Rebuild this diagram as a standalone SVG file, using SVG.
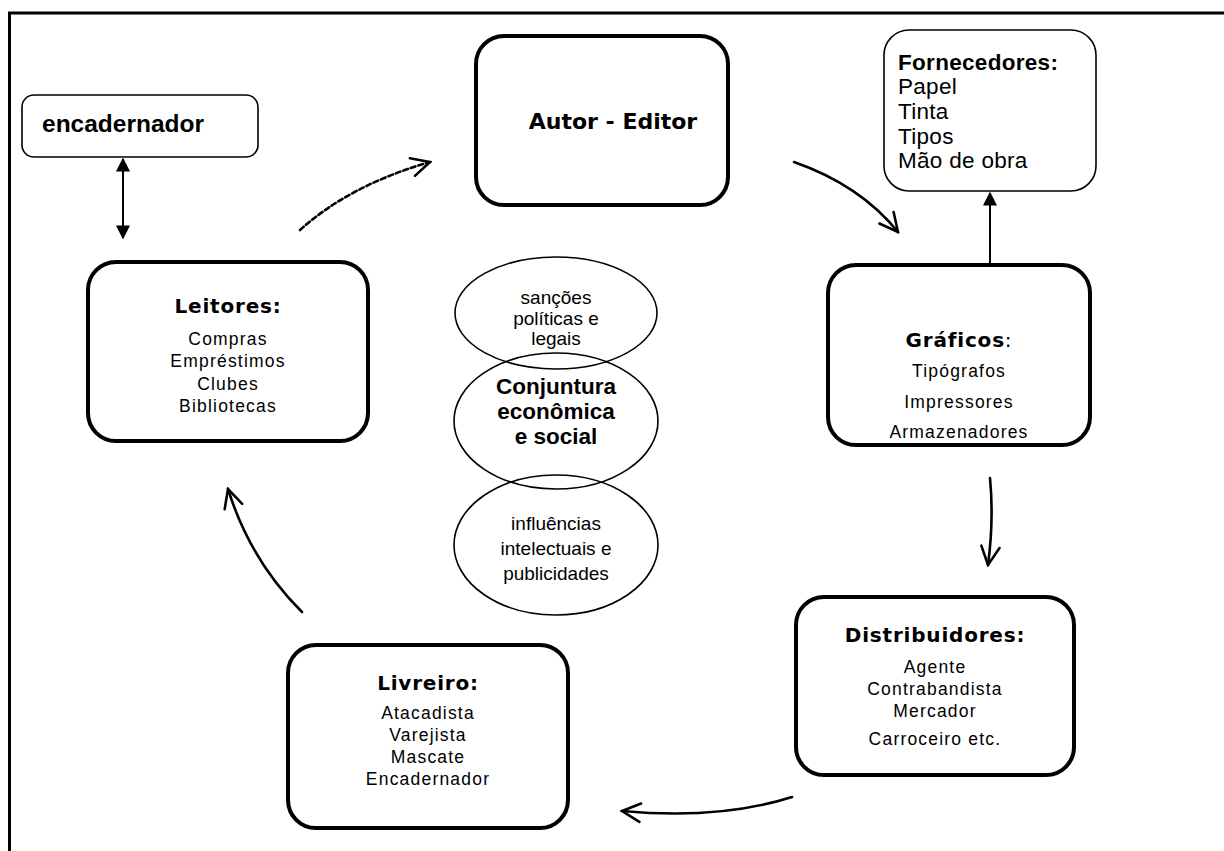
<svg xmlns="http://www.w3.org/2000/svg" width="1224" height="851" viewBox="0 0 1224 851">
  <style>
    .thick { fill: #fff; stroke: #000; stroke-width: 4; }
    .thin { fill: #fff; stroke: #000; stroke-width: 1.6; }
    .ell { fill: none; stroke: #000; stroke-width: 1.6; }
    .head { font-family: "DejaVu Sans", Verdana, sans-serif; font-weight: bold; font-size: 20px; letter-spacing: 0.8px; text-anchor: middle; fill: #000; }
    .item { font-family: "Liberation Sans", Arial, sans-serif; font-size: 17.5px; letter-spacing: 1.2px; text-anchor: middle; fill: #000; }
    .sup { font-family: "Liberation Sans", Arial, sans-serif; font-size: 22.5px; letter-spacing: 0.3px; fill: #000; }
    .oval { font-family: "Liberation Sans", Arial, sans-serif; font-size: 19px; text-anchor: middle; fill: #000; }
    .ovalb { font-family: "Liberation Sans", Arial, sans-serif; font-size: 22.5px; font-weight: bold; text-anchor: middle; fill: #000; }
    .conn { fill: none; stroke: #000; stroke-width: 2.6; stroke-linecap: round; }
    .straight { fill: none; stroke: #000; stroke-width: 2; }
  </style>
  <defs>
    <marker id="tri" viewBox="0 0 10 10" refX="9" refY="5" markerWidth="14" markerHeight="14" markerUnits="userSpaceOnUse" orient="auto-start-reverse">
      <path d="M0,0 L10,5 L0,10 Z" fill="#000"/>
    </marker>
    <marker id="open" viewBox="0 0 12 12" refX="11" refY="6" markerWidth="22" markerHeight="22" markerUnits="userSpaceOnUse" orient="auto">
      <path d="M1,1 L11,6 L1,11" fill="none" stroke="#000" stroke-width="1.4" stroke-linecap="round"/>
    </marker>
  </defs>

  <!-- page frame: top and left edges -->
  <path d="M9.5,851 L9.5,13 L1224,13" fill="none" stroke="#000" stroke-width="3"/>

  <!-- connectors -->
  <g id="connectors">
    <line class="straight" x1="123" y1="159" x2="123" y2="238" marker-start="url(#tri)" marker-end="url(#tri)"/>
    <line class="straight" x1="990" y1="265" x2="990" y2="193" marker-end="url(#tri)"/>
    <path class="conn" d="M300,230 Q350,185 430,162" stroke-dasharray="5,3" marker-end="url(#open)"/>
    <path class="conn" d="M794,162 Q860,185 898,232" marker-end="url(#open)"/>
    <path class="conn" d="M990,478 Q994,520 988,565" marker-end="url(#open)"/>
    <path class="conn" d="M792,797 Q720,820 622,811" marker-end="url(#open)"/>
    <path class="conn" d="M302,612 Q250,560 228,489" marker-end="url(#open)"/>
  </g>

  <g id="encadernador">
    <rect class="thin" x="22" y="95" width="236" height="62" rx="12"/>
    <text x="42" y="132" font-family="Liberation Sans, Arial, sans-serif" font-size="24.5" font-weight="bold">encadernador</text>
  </g>

  <g id="autor-editor">
    <rect class="thick" x="476" y="36" width="252" height="169" rx="28"/>
    <text x="613" y="129" font-family="DejaVu Sans, Verdana, sans-serif" font-weight="bold" font-size="22" text-anchor="middle">Autor - Editor</text>
  </g>

  <g id="fornecedores">
    <rect class="thin" x="884" y="30" width="212" height="161" rx="25"/>
    <text class="sup" x="898" y="70" font-weight="bold" font-size="25">Fornecedores:</text>
    <text class="sup" x="898" y="94">Papel</text>
    <text class="sup" x="898" y="119">Tinta</text>
    <text class="sup" x="898" y="144">Tipos</text>
    <text class="sup" x="898" y="168">Mão de obra</text>
  </g>

  <g id="leitores">
    <rect class="thick" x="88" y="262" width="280" height="179" rx="28"/>
    <text class="head" x="228" y="313">Leitores:</text>
    <text class="item" x="228" y="345">Compras</text>
    <text class="item" x="228" y="367">Empréstimos</text>
    <text class="item" x="228" y="390">Clubes</text>
    <text class="item" x="228" y="412">Bibliotecas</text>
  </g>

  <g id="graficos">
    <rect class="thick" x="828" y="265" width="262" height="180" rx="28"/>
    <text class="head" x="959" y="347">Gráficos<tspan font-weight="normal">:</tspan></text>
    <text class="item" x="959" y="377">Tipógrafos</text>
    <text class="item" x="959" y="408">Impressores</text>
    <text class="item" x="959" y="438">Armazenadores</text>
  </g>

  <g id="distribuidores">
    <rect class="thick" x="796" y="597" width="278" height="178" rx="28"/>
    <text class="head" x="935" y="642">Distribuidores:</text>
    <text class="item" x="935" y="673">Agente</text>
    <text class="item" x="935" y="695">Contrabandista</text>
    <text class="item" x="935" y="717">Mercador</text>
    <text class="item" x="935" y="745">Carroceiro etc.</text>
  </g>

  <g id="livreiro">
    <rect class="thick" x="288" y="645" width="280" height="183" rx="28"/>
    <text class="head" x="428" y="690">Livreiro:</text>
    <text class="item" x="428" y="719">Atacadista</text>
    <text class="item" x="428" y="741">Varejista</text>
    <text class="item" x="428" y="763">Mascate</text>
    <text class="item" x="428" y="785">Encadernador</text>
  </g>

  <g id="sancoes">
    <ellipse class="ell" cx="556" cy="313" rx="101" ry="56"/>
    <text class="oval" x="556" y="304">sanções</text>
    <text class="oval" x="556" y="325">políticas e</text>
    <text class="oval" x="556" y="345">legais</text>
  </g>

  <g id="conjuntura">
    <ellipse class="ell" cx="556" cy="421" rx="102" ry="68"/>
    <text class="ovalb" x="556" y="394">Conjuntura</text>
    <text class="ovalb" x="556" y="419">econômica</text>
    <text class="ovalb" x="556" y="444">e social</text>
  </g>

  <g id="influencias">
    <ellipse class="ell" cx="556" cy="545" rx="102" ry="70"/>
    <text class="oval" x="556" y="530">influências</text>
    <text class="oval" x="556" y="555">intelectuais e</text>
    <text class="oval" x="556" y="580">publicidades</text>
  </g>
</svg>
